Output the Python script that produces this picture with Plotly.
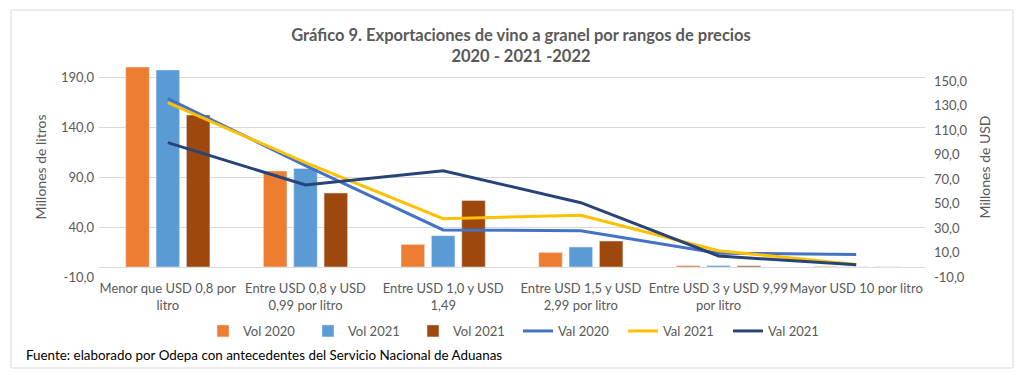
import plotly.graph_objects as go

categories = [
    "Menor que USD 0,8 por<br>litro",
    "Entre USD 0,8 y USD<br>0,99 por litro",
    "Entre USD 1,0 y USD<br>1,49",
    "Entre USD 1,5 y USD<br>2,99 por litro",
    "Entre USD 3 y USD 9,99<br>por litro",
    "Mayor USD 10 por litro",
]
vol_2020 = [200.0, 96.0, 22.6, 14.6, 1.5, 0.6]
vol_2021 = [197.0, 98.6, 31.3, 20.0, 1.5, 0.1]
vol_2022 = [152.0, 74.0, 66.6, 26.0, 1.2, 0.1]
val_2020 = [136.0, 81.2, 28.5, 27.9, 9.5, 8.5]
val_2021 = [132.6, 83.6, 37.7, 40.5, 11.5, 0.3]
val_2022 = [100.0, 65.3, 77.0, 50.8, 7.2, 0.0]

left_ticks = [-10, 40, 90, 140, 190]
left_ticktext = ["-10,0", "40,0", "90,0", "140,0", "190,0"]
right_ticks = [-10, 10, 30, 50, 70, 90, 110, 130, 150]
right_ticktext = ["-10,0", "10,0", "30,0", "50,0", "70,0", "90,0", "110,0", "130,0", "150,0"]

FONT = "Lato, 'Open Sans', sans-serif"
GRAY = "#595959"
GRID = "#d9d9d9"

fig = go.Figure()
fig.add_bar(x=categories, y=vol_2020, name="Vol 2020", marker_color="#ED7D31")
fig.add_bar(x=categories, y=vol_2021, name="Vol 2021", marker_color="#5B9BD5")
fig.add_bar(x=categories, y=vol_2022, name="Vol 2021", marker_color="#9E480E")
fig.add_scatter(x=categories, y=val_2020, name="Val 2020", yaxis="y2", mode="lines",
                line=dict(color="#4472C4", width=3))
fig.add_scatter(x=categories, y=val_2021, name="Val 2021", yaxis="y2", mode="lines",
                line=dict(color="#FFC000", width=3))
fig.add_scatter(x=categories, y=val_2022, name="Val 2021", yaxis="y2", mode="lines",
                line=dict(color="#264478", width=3))

L, R, T, B = 99, 99, 57, 112
W, H = 1024, 389
pw = W - L - R
ph = H - T - B

def px_x(px):
    return (px - L) / pw

def px_y(py):
    return (H - B - py) / ph

fig.update_layout(
    width=W, height=H,
    margin=dict(l=L, r=R, t=T, b=B, pad=0, autoexpand=False),
    paper_bgcolor="white", plot_bgcolor="white",
    font=dict(family=FONT, size=13, color=GRAY),
    barmode="group", bargap=0.339, bargroupgap=0.224,
    title=dict(
        text="<b>Gráfico 9. Exportaciones de vino a granel por rangos de precios<br>2020 - 2021 -2022</b>",
        x=521 / W, xanchor="center", xref="container",
        y=1 - 41 / H, yanchor="top", yref="container",
        font=dict(family=FONT, size=16.5, color=GRAY),
    ),
    xaxis=dict(
        showgrid=False, showline=False, ticks="", zeroline=False, automargin=False,
        tickangle=0, tickfont=dict(size=13, color=GRAY), ticklabelstandoff=2,
    ),
    yaxis=dict(
        range=[-10, 210], tickvals=left_ticks, ticktext=left_ticktext, automargin=False,
        showgrid=True, gridcolor=GRID, gridwidth=1,
        zeroline=True, zerolinecolor=GRID, zerolinewidth=1,
        showline=False, ticks="", tickfont=dict(size=13, color=GRAY), ticklabelstandoff=4,
        title=dict(text="Millones de litros", font=dict(size=14, color=GRAY), standoff=10),
    ),
    yaxis2=dict(
        range=[-10, 170], tickvals=right_ticks, ticktext=right_ticktext, automargin=False,
        overlaying="y", side="right", showgrid=False, zeroline=False,
        showline=False, ticks="", tickfont=dict(size=13, color=GRAY), ticklabelstandoff=8,
        title=dict(text="Millones de USD", font=dict(size=14, color=GRAY), standoff=13),
    ),
    legend=dict(
        orientation="h", x=518 / W, xanchor="center", xref="container",
        y=1 - 316 / H, yanchor="top", yref="container",
        font=dict(size=13, color=GRAY), bgcolor="rgba(0,0,0,0)",
        entrywidth=60, entrywidthmode="pixels", traceorder="normal",
    ),
    showlegend=True,
)

fig.add_annotation(
    text="Fuente: elaborado por Odepa con antecedentes del Servicio Nacional de Aduanas",
    xref="paper", yref="paper", x=px_x(24), y=px_y(355),
    xanchor="left", yanchor="middle", showarrow=False,
    font=dict(family=FONT, size=13.4, color="#000000"),
)

fig.add_shape(
    type="rect", xref="paper", yref="paper",
    x0=px_x(11), x1=px_x(1013), y0=px_y(368), y1=px_y(10),
    line=dict(color=GRID, width=1), fillcolor="rgba(0,0,0,0)", layer="below",
)

fig.write_html("out.html", config={"displayModeBar": False},
               post_script="document.body.style.margin='0';")
